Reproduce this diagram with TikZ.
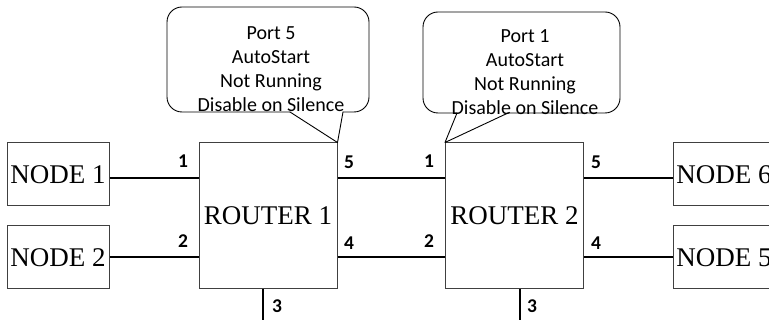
\documentclass[tikz,border=0pt]{standalone}
\usepackage{fontspec}
\setmainfont{Liberation Serif}
\newfontfamily\calfont{Carlito}
\begin{document}
\begin{tikzpicture}[x=1pt,y=-1pt,
  devbox/.style={draw=black!75, line width=1pt, inner sep=0pt,
    font=\fontsize{27}{27}\selectfont},
  endbox/.style={devbox, minimum width=102pt, minimum height=63pt},
  routerbox/.style={devbox, minimum width=138pt, minimum height=146pt},
  link/.style={line width=2.2pt},
  port/.style={font=\calfont\bfseries\fontsize{19.5}{19.5}\selectfont, inner sep=0pt},
  callout/.style={line width=0.9pt, line cap=round, line join=round},
  callouttext/.style={font=\calfont\fontsize{20}{24}\selectfont, align=center, inner sep=0pt}]
\useasboundingbox (0,0) rectangle (769,320);
\clip (0,0) rectangle (769,320);

% devices
\node[endbox] (n1) at (58,174.5) {NODE 1};
\node[endbox] (n2) at (58,257.5) {NODE 2};
\node[routerbox] (r1) at (268,216) {ROUTER 1};
\node[routerbox] (r2) at (514.5,216) {ROUTER 2};
\node[endbox] (n6) at (724,174.5) {NODE 6};
\node[endbox] (n5) at (724,257.5) {NODE 5};

% rows for the links
\coordinate (ra) at (0,178);
\coordinate (rb) at (0,257);
\coordinate (b1) at (263,322);
\coordinate (b2) at (520,322);

\draw[link] (n1.east |- ra) -- (r1.west |- ra);
\draw[link] (n2.east |- rb) -- (r1.west |- rb);
\draw[link] (r1.east |- ra) -- (r2.west |- ra);
\draw[link] (r1.east |- rb) -- (r2.west |- rb);
\draw[link] (r2.east |- ra) -- (n6.west |- ra);
\draw[link] (r2.east |- rb) -- (n5.west |- rb);
\draw[link] (r1.south -| b1) -- (b1);
\draw[link] (r2.south -| b2) -- (b2);

% port labels
\node[port] (p11) at (183,161) {1};
\node[port] (p12) at (183,241) {2};
\node[port] (p15) at (349,162) {5};
\node[port] (p14) at (349,243) {4};
\node[port] (p21) at (429,161) {1};
\node[port] (p22) at (429,241) {2};
\node[port] (p25) at (596,162) {5};
\node[port] (p24) at (596,243) {4};
\node[port] (p13) at (277,306) {3};
\node[port] (p23) at (532,306) {3};

% callout 1
\draw[callout, rounded corners=15pt] (343,112) -- (369,112) -- (369,7) -- (167,7) -- (167,112) -- (290,112);
\draw[callout] (290,112) -- (r1.north east) -- (343,112);
\node[callouttext] (c1) at (271,69) {Port 5\\AutoStart\\Not Running\\Disable on Silence};

% callout 2
\draw[callout, rounded corners=15pt] (508,113) -- (620,113) -- (620,12) -- (423,12) -- (423,113) -- (457,113);
\draw[callout] (457,113) -- (r2.north west) -- (508,113);
\node[callouttext] (c2) at (525,72) {Port 1\\AutoStart\\Not Running\\Disable on Silence};
\end{tikzpicture}
\end{document}
